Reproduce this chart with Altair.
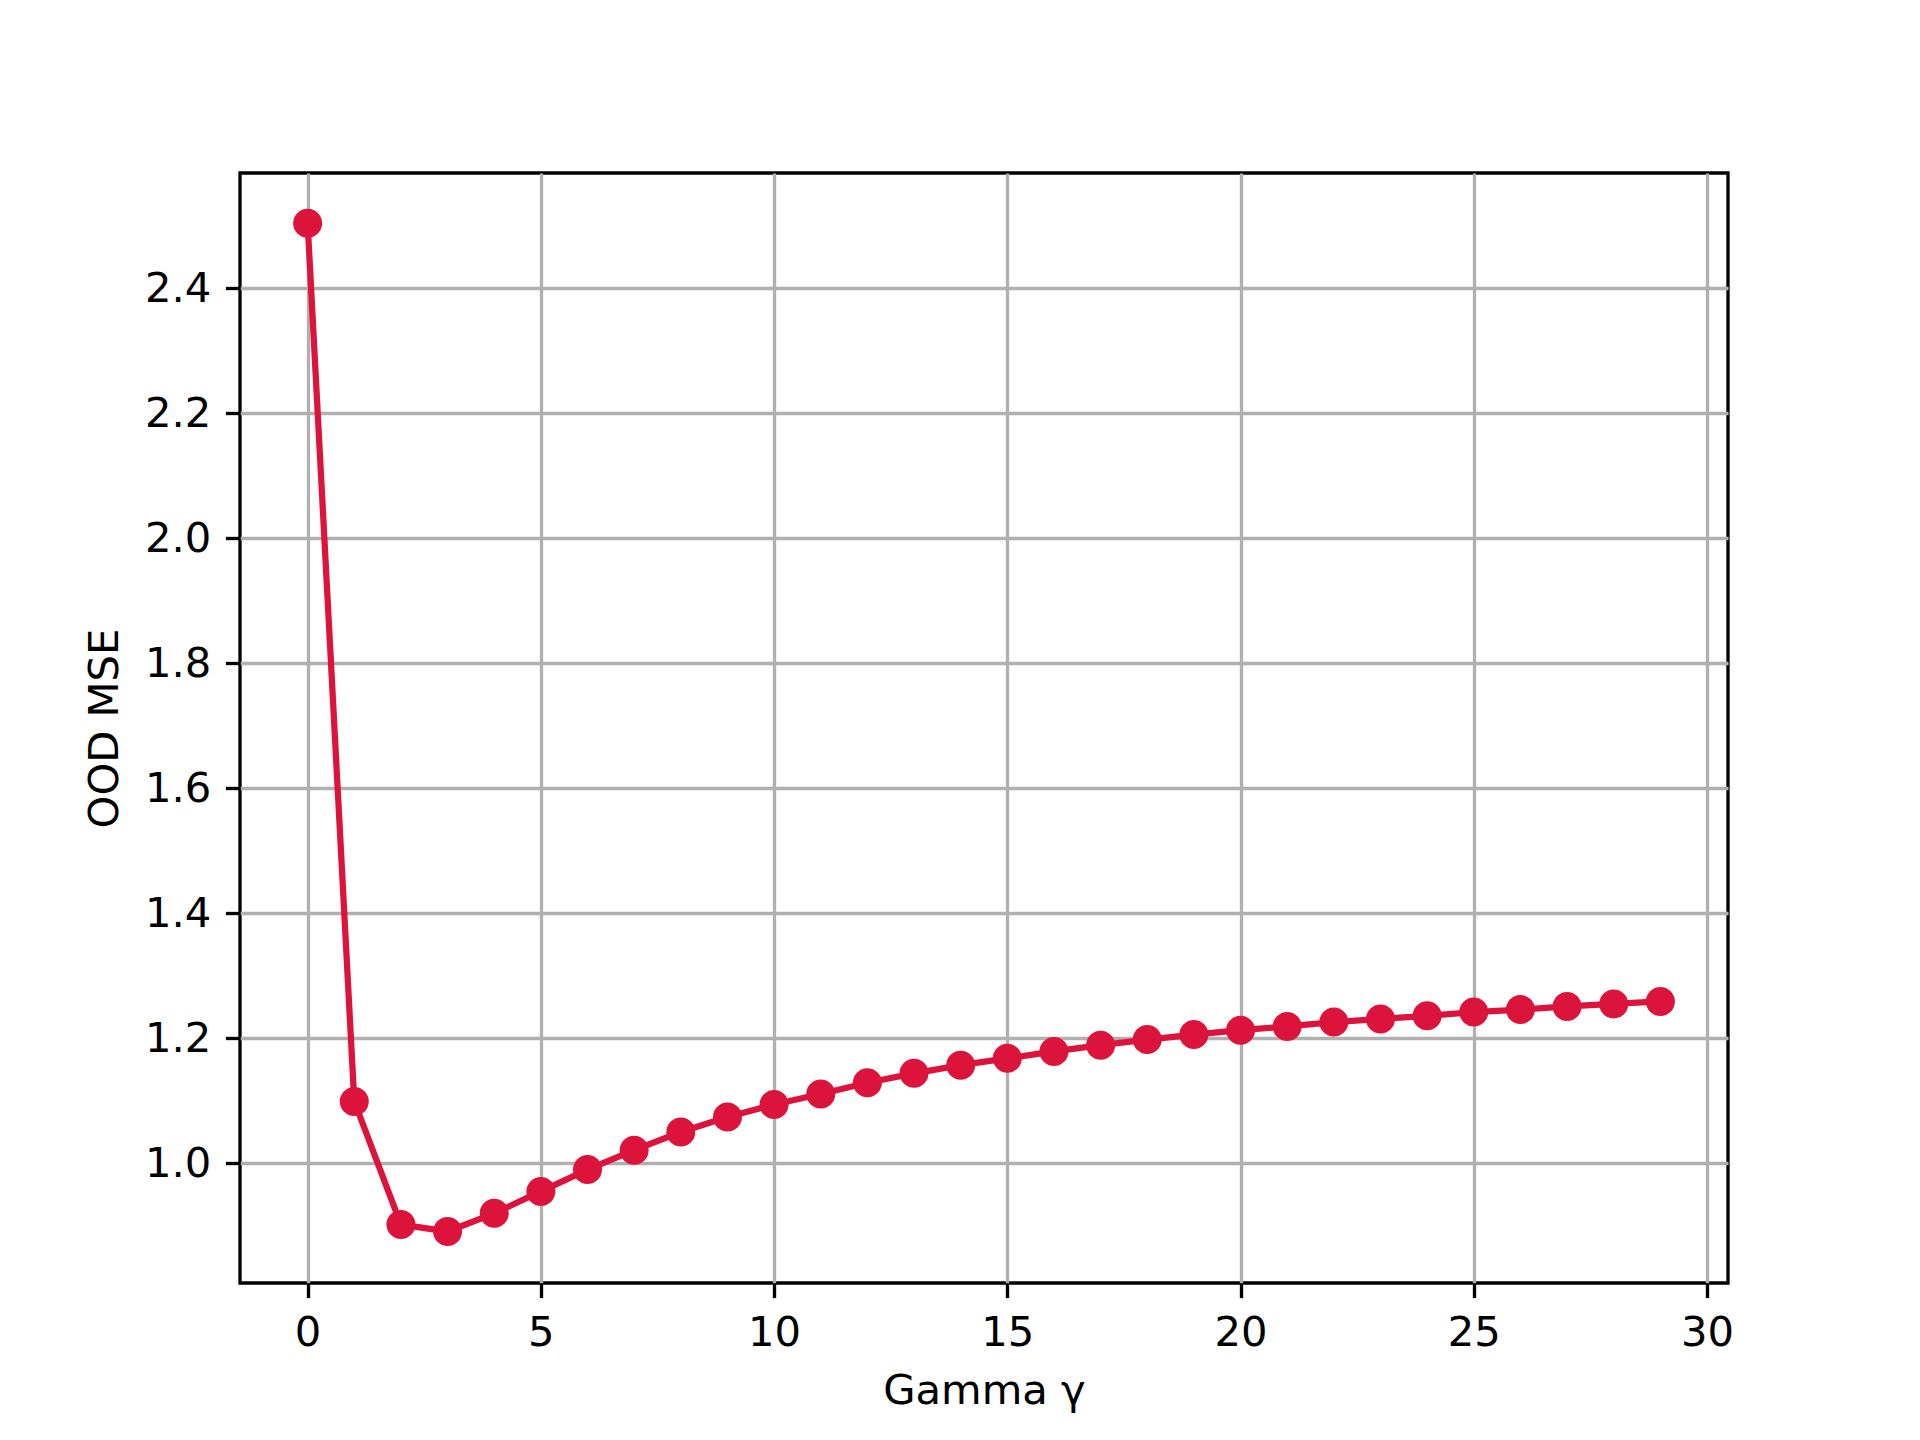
import altair as alt
import pandas as pd

gamma = list(range(30))
ood_mse = [2.504, 1.099, 0.902, 0.891, 0.920, 0.955, 0.990, 1.021, 1.050, 1.074,
           1.094, 1.111, 1.129, 1.144, 1.157, 1.168, 1.179, 1.189, 1.198, 1.206,
           1.213, 1.219, 1.226, 1.231, 1.236, 1.242, 1.246, 1.251, 1.255, 1.259]
x_ticks = [0, 5, 10, 15, 20, 25, 30]
y_ticks = [1.0, 1.2, 1.4, 1.6, 1.8, 2.0, 2.2, 2.4]

df = pd.DataFrame({"gamma": gamma, "mse": ood_mse})

RED = "#DC143C"
FONT = "DejaVu Sans"
FS = 41.7
LW = 3.33

x_enc = alt.X("gamma:Q",
              scale=alt.Scale(domain=[-1.45, 30.45], nice=False, zero=False),
              axis=alt.Axis(values=x_ticks, format="d", title="Gamma γ",
                            titleX=744, titleY=107, titleBaseline="middle",
                            titleAlign="center", titleAnchor="middle"))
y_enc = alt.Y("mse:Q",
              scale=alt.Scale(domain=[0.8085, 2.5845], nice=False, zero=False),
              axis=alt.Axis(values=y_ticks, format=".1f", title="OOD MSE",
                            titleX=-136, titleY=555, titleBaseline="middle",
                            titleAlign="center", titleAngle=270))

base = alt.Chart(df)
line = base.mark_line(color=RED, strokeWidth=6.25).encode(x=x_enc, y=y_enc)
pts = base.mark_circle(color=RED, size=841, opacity=1).encode(x="gamma:Q", y="mse:Q")

chart = (line + pts).properties(
    width=1488, height=1110,
    autosize=alt.AutoSizeParams(type="none"),
    padding={"left": 232, "top": 165, "right": 184, "bottom": 149},
    background="white",
).configure_view(
    stroke="black", strokeWidth=LW
).configure_axis(
    domain=False,
    grid=True, gridColor="#b0b0b0", gridWidth=LW, gridOpacity=1,
    ticks=True, tickColor="black", tickWidth=LW, tickSize=14.6,
    labelFont=FONT, labelFontSize=FS, labelColor="black", labelPadding=14.6,
    titleFont=FONT, titleFontSize=FS, titleColor="black", titleFontWeight="normal",
).configure_axisX(
    labelBaseline="top"
)

chart.save("out.html", embed_options={"renderer": "svg", "actions": False})
